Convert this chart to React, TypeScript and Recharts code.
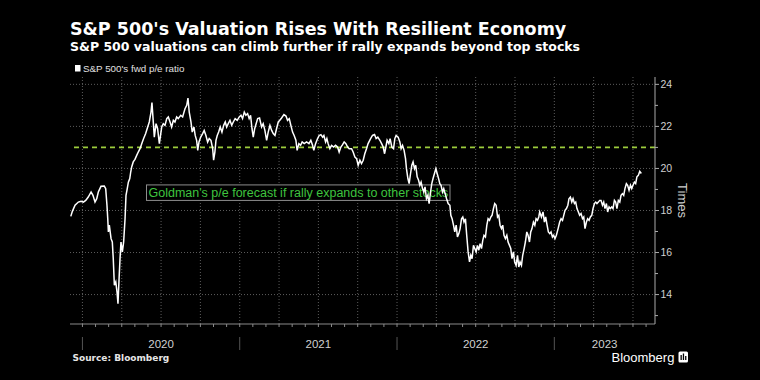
import React from 'react';
import { LineChart, Line, XAxis, YAxis, CartesianGrid, ReferenceLine } from 'recharts';

const TITLE = "S&P 500's Valuation Rises With Resilient Economy";
const SUBTITLE = 'S&P 500 valuations can climb further if rally expands beyond top stocks';
const SERIES_NAME = "S&P 500's fwd p/e ratio";
const ANNOTATION = "Goldman's p/e forecast if rally expands to other stocks";
const SOURCE = 'Source: Bloomberg';
const Y_AXIS_TITLE = 'Times';
const LOGO = 'Bloomberg';

// [decimal year, forward p/e]
const pe2020: [number, number][] = [
  [2019.926, 17.72], [2019.936, 17.96], [2019.953, 18.25], [2019.974, 18.4], [2019.991, 18.44],
  [2020.006, 18.4], [2020.021, 18.48], [2020.037, 18.64], [2020.055, 18.88], [2020.067, 18.72],
  [2020.08, 18.4], [2020.091, 18.56], [2020.101, 18.88], [2020.118, 19.15], [2020.139, 19.16],
  [2020.148, 19.04], [2020.156, 18.25], [2020.161, 17.61], [2020.165, 16.98], [2020.171, 17.3],
  [2020.182, 16.66], [2020.19, 16.5], [2020.196, 15.71], [2020.203, 14.44], [2020.212, 14.6],
  [2020.22, 14.12], [2020.226, 13.57], [2020.233, 14.76], [2020.239, 15.71], [2020.245, 16.5],
  [2020.254, 16.03], [2020.262, 16.5], [2020.271, 17.61], [2020.277, 18.72], [2020.285, 19.04],
  [2020.292, 19.35], [2020.301, 19.52], [2020.307, 19.83], [2020.313, 20.07], [2020.323, 20.31],
  [2020.334, 20.43], [2020.345, 20.62], [2020.355, 20.78], [2020.366, 20.94], [2020.377, 21.18],
  [2020.389, 21.42], [2020.402, 21.66], [2020.415, 21.97], [2020.425, 22.21], [2020.436, 22.68],
  [2020.442, 23.13], [2020.449, 22.37], [2020.457, 21.49], [2020.468, 22.13], [2020.478, 21.89],
  [2020.489, 21.18], [2020.504, 21.97], [2020.514, 22.13], [2020.525, 22.05], [2020.536, 22.37],
  [2020.546, 22.45], [2020.557, 22.21], [2020.567, 21.97], [2020.578, 22.29], [2020.588, 22.21],
  [2020.599, 22.45], [2020.609, 22.37], [2020.625, 22.53], [2020.637, 22.45], [2020.652, 22.84],
  [2020.663, 23.0], [2020.671, 23.35], [2020.679, 22.68], [2020.69, 22.21], [2020.698, 21.73],
  [2020.709, 21.97], [2020.717, 21.57], [2020.726, 21.34], [2020.733, 20.86], [2020.741, 21.26],
  [2020.752, 21.49], [2020.764, 21.66], [2020.774, 21.81], [2020.785, 21.57], [2020.796, 21.26],
  [2020.806, 21.42], [2020.817, 21.34], [2020.828, 20.94], [2020.834, 20.39], [2020.842, 20.78],
  [2020.849, 21.34], [2020.857, 21.57], [2020.866, 21.73], [2020.876, 21.97], [2020.887, 21.73],
  [2020.898, 22.05], [2020.908, 22.21], [2020.917, 21.97], [2020.927, 22.13], [2020.938, 22.29],
  [2020.949, 22.05], [2020.959, 22.21], [2020.971, 22.37], [2020.984, 22.29], [2020.997, 22.45],
];

const pe2021: [number, number][] = [
  [2021.008, 22.53], [2021.018, 22.37], [2021.029, 22.68], [2021.039, 22.53], [2021.05, 22.61],
  [2021.06, 22.37], [2021.069, 22.53], [2021.078, 21.89], [2021.086, 21.49], [2021.095, 21.89],
  [2021.114, 22.37], [2021.126, 22.4], [2021.139, 21.97], [2021.149, 22.13], [2021.16, 21.81],
  [2021.171, 21.34], [2021.181, 21.73], [2021.192, 22.05], [2021.203, 21.81], [2021.213, 21.66],
  [2021.224, 21.57], [2021.234, 21.89], [2021.245, 22.21], [2021.255, 22.29], [2021.266, 22.4],
  [2021.281, 22.56], [2021.294, 22.49], [2021.304, 22.29], [2021.315, 22.37], [2021.325, 22.05],
  [2021.336, 21.73], [2021.346, 21.57], [2021.357, 21.34], [2021.365, 20.86], [2021.376, 21.18],
  [2021.387, 21.1], [2021.397, 21.26], [2021.41, 21.18], [2021.425, 21.26], [2021.44, 21.18],
  [2021.452, 21.34], [2021.463, 21.1], [2021.471, 20.86], [2021.482, 21.18], [2021.495, 21.42],
  [2021.505, 21.57], [2021.516, 21.61], [2021.527, 21.49], [2021.535, 21.57], [2021.546, 21.26],
  [2021.554, 21.42], [2021.562, 21.18], [2021.573, 20.94], [2021.584, 21.1], [2021.597, 21.02],
  [2021.609, 21.1], [2021.622, 21.02], [2021.632, 20.78], [2021.643, 21.02], [2021.654, 21.13],
  [2021.664, 21.26], [2021.675, 21.18], [2021.686, 21.02], [2021.696, 20.94], [2021.711, 20.94],
  [2021.721, 20.78], [2021.732, 20.54], [2021.743, 20.47], [2021.753, 20.15], [2021.764, 20.39],
  [2021.774, 20.23], [2021.785, 20.39], [2021.795, 20.7], [2021.806, 20.94], [2021.816, 21.18],
  [2021.832, 21.42], [2021.844, 21.57], [2021.857, 21.61], [2021.867, 21.42], [2021.878, 21.49],
  [2021.891, 21.34], [2021.902, 21.18], [2021.912, 21.02], [2021.921, 20.7], [2021.929, 21.02],
  [2021.937, 21.34], [2021.948, 21.18], [2021.956, 21.42], [2021.967, 21.02], [2021.978, 20.94],
  [2021.986, 21.42], [2021.994, 21.57],
];

const pe2022: [number, number][] = [
  [2022.007, 21.49], [2022.018, 21.26], [2022.026, 20.94], [2022.035, 21.1], [2022.045, 20.86],
  [2022.054, 20.47], [2022.06, 19.99], [2022.069, 19.52], [2022.077, 19.28], [2022.086, 19.76],
  [2022.094, 20.15], [2022.102, 20.31], [2022.111, 19.99], [2022.119, 20.15], [2022.128, 19.6],
  [2022.137, 19.44], [2022.145, 19.2], [2022.153, 19.35], [2022.162, 19.04], [2022.17, 18.88],
  [2022.178, 19.12], [2022.187, 18.56], [2022.196, 18.72], [2022.204, 18.33], [2022.213, 18.88],
  [2022.221, 19.28], [2022.229, 19.52], [2022.238, 19.76], [2022.247, 19.99], [2022.255, 19.76],
  [2022.264, 19.52], [2022.272, 19.28], [2022.28, 19.2], [2022.289, 18.88], [2022.297, 19.04],
  [2022.315, 18.56], [2022.325, 18.33], [2022.336, 18.25], [2022.342, 17.77], [2022.35, 17.61],
  [2022.359, 17.3], [2022.367, 16.98], [2022.376, 17.3], [2022.384, 16.74], [2022.393, 16.9],
  [2022.401, 17.14], [2022.41, 17.61], [2022.418, 17.69], [2022.426, 17.45], [2022.435, 17.61],
  [2022.443, 16.82], [2022.452, 16.03], [2022.461, 15.55], [2022.469, 15.87], [2022.477, 15.71],
  [2022.486, 16.34], [2022.494, 16.19], [2022.503, 16.03], [2022.511, 16.34], [2022.52, 16.11],
  [2022.528, 16.42], [2022.537, 16.19], [2022.545, 16.58], [2022.553, 16.82], [2022.562, 16.74],
  [2022.571, 17.3], [2022.579, 17.61], [2022.588, 17.53], [2022.596, 17.69], [2022.604, 17.77],
  [2022.613, 18.09], [2022.621, 18.33], [2022.63, 18.25], [2022.639, 17.69], [2022.647, 17.77],
  [2022.655, 17.3], [2022.664, 17.14], [2022.672, 17.3], [2022.68, 16.82], [2022.689, 16.66],
  [2022.698, 16.82], [2022.706, 16.5], [2022.715, 16.34], [2022.723, 16.19], [2022.731, 15.71],
  [2022.74, 16.03], [2022.748, 15.55], [2022.757, 15.39], [2022.766, 15.87], [2022.774, 15.31],
  [2022.782, 15.55], [2022.791, 15.39], [2022.799, 15.87], [2022.808, 16.19], [2022.816, 16.5],
  [2022.825, 16.98], [2022.833, 16.82], [2022.842, 16.5], [2022.85, 16.98], [2022.858, 17.14],
  [2022.867, 17.45], [2022.876, 17.3], [2022.884, 17.61], [2022.893, 17.53], [2022.901, 17.69],
  [2022.907, 17.93], [2022.918, 17.69], [2022.928, 17.93], [2022.937, 17.45], [2022.945, 17.69],
  [2022.954, 17.3], [2022.962, 16.98], [2022.971, 16.9], [2022.979, 16.98], [2022.988, 16.74],
  [2022.996, 16.82],
];

const pe2023: [number, number][] = [
  [2023.004, 16.66], [2023.013, 16.82], [2023.024, 17.14], [2023.034, 17.45], [2023.043, 17.61],
  [2023.052, 17.53], [2023.06, 17.77], [2023.068, 18.01], [2023.077, 18.09], [2023.086, 18.25],
  [2023.093, 18.56], [2023.102, 18.64], [2023.111, 18.4], [2023.119, 18.56], [2023.128, 18.33],
  [2023.136, 18.4], [2023.144, 18.09], [2023.153, 17.93], [2023.161, 17.77], [2023.17, 17.85],
  [2023.179, 17.61], [2023.187, 17.69], [2023.195, 17.14], [2023.204, 17.45], [2023.212, 17.61],
  [2023.221, 17.53], [2023.229, 17.69], [2023.238, 17.77], [2023.246, 18.09], [2023.255, 18.33],
  [2023.263, 18.4], [2023.271, 18.33], [2023.28, 18.4], [2023.288, 18.48], [2023.297, 18.48],
  [2023.306, 18.25], [2023.314, 18.4], [2023.322, 18.09], [2023.331, 18.33], [2023.339, 17.93],
  [2023.348, 18.17], [2023.356, 18.09], [2023.365, 18.17], [2023.373, 18.09], [2023.382, 18.48],
  [2023.39, 18.4], [2023.398, 18.09], [2023.407, 18.48], [2023.416, 18.4], [2023.424, 18.72],
  [2023.433, 18.8], [2023.441, 18.72], [2023.449, 19.04], [2023.458, 19.28], [2023.466, 19.2],
  [2023.475, 18.96], [2023.484, 19.2], [2023.492, 19.04], [2023.5, 19.2], [2023.509, 19.35],
  [2023.517, 19.28], [2023.525, 19.6], [2023.534, 19.67], [2023.543, 19.86], [2023.553, 19.76],
];

const goldmanForecast = 21;
const yearLabels = ['2020', '2021', '2022', '2023'];
const yearLabelPositions = [2020.5, 2021.5, 2022.5, 2023.32];
const tickYears = [2020, 2021, 2022, 2023];
const yTicks = [13, 14, 15, 16, 17, 18, 19, 20, 21, 22, 23, 24];
const yLabelled = [14, 16, 18, 20, 22, 24];
const quarterGrid = [2020, 2020.25, 2020.5, 2020.75, 2021, 2021.25, 2021.5, 2021.75, 2022, 2022.25, 2022.5, 2022.75, 2023, 2023.25, 2023.5];
const xDomain: [number, number] = [2019.921, 2023.64];
const yDomain: [number, number] = [12.6, 24.35];

const data = [...pe2020, ...pe2021, ...pe2022, ...pe2023].map(([t, pe]) => ({ t, pe }));
const monthTicks: number[] = [];
tickYears.forEach((yr) => {
  for (let m = 0; m < 12; m++) {
    const v = yr + m / 12;
    if (v >= xDomain[0] && v <= xDomain[1]) monthTicks.push(v);
  }
});

const SANS = "'Liberation Sans', Arial, sans-serif";
const DEJAVU = "'DejaVu Sans', sans-serif";

const MonthTick = (props: any) => {
  const { x, y, payload } = props;
  const v = payload.value as number;
  const isJan = Math.abs(v - Math.round(v)) < 1e-6;
  return (
    <g>
      <line x1={x} x2={x} y1={y} y2={y + 3} stroke="#8a8a8a" strokeWidth={1} />
      {isJan && <line x1={x} x2={x} y1={y + 13} y2={y + 26} stroke="#555" strokeWidth={1} />}
    </g>
  );
};

const YearLabelTick = (props: any) => {
  const { x, y, payload } = props;
  const i = yearLabelPositions.indexOf(payload.value);
  return (
    <text x={x} y={y + 4.3} textAnchor="middle" fill="#d0d0d0" fontSize={11.5} fontFamily={SANS}>
      {yearLabels[i]}
    </text>
  );
};

const YTick = (props: any) => {
  const { x, y, payload } = props;
  const v = payload.value as number;
  const major = yLabelled.includes(v);
  return (
    <g>
      <line x1={x} x2={x + (major ? 4 : 3)} y1={y} y2={y} stroke="#aaa" strokeWidth={1} />
      {major && (
        <text x={x + 5.5} y={y + 3.8} fill="#d0d0d0" fontSize={10.5} fontFamily={SANS}>
          {v}
        </text>
      )}
    </g>
  );
};

const YTitle = (props: any) => {
  const vb = props.viewBox || { x: 655, y: 77, width: 60, height: 247 };
  const cx = vb.x + 27;
  const cy = vb.y + vb.height / 2;
  return (
    <text
      x={cx}
      y={cy}
      transform={`rotate(90 ${cx} ${cy})`}
      textAnchor="middle"
      dominantBaseline="central"
      fill="#cfcfcf"
      fontSize={13}
      fontFamily={SANS}
    >
      {Y_AXIS_TITLE}
    </text>
  );
};

const AnnotationBox = (props: any) => {
  const vb = props.viewBox || { x: 70, y: 147.5 };
  const bx = vb.x + 76.5;
  const by = vb.y + 37.5;
  return (
    <g>
      <rect x={bx} y={by} width={303.5} height={15.5} fill="#000" stroke="#8c8c8c" strokeWidth={1} />
      <text x={bx + 2} y={by + 12} fill="#3fc43f" fontSize={12.5} fontFamily={SANS}>
        {ANNOTATION}
      </text>
    </g>
  );
};

export default function App() {
  return (
    <div style={{ position: 'absolute', left: 0, top: 0, width: 760, height: 380, background: '#000', overflow: 'hidden' }}>
      <svg width={760} height={380} style={{ position: 'absolute', left: 0, top: 0 }}>
        <text x={70} y={34.7} fill="#fff" fontSize={17.5} fontWeight="bold" fontFamily={DEJAVU}>
          {TITLE}
        </text>
        <text x={70} y={50.5} fill="#fff" fontSize={12.5} fontWeight="bold" fontFamily={DEJAVU}>
          {SUBTITLE}
        </text>
        <rect x={75} y={65} width={5.5} height={6.5} fill="#fff" />
        <text x={83} y={71.5} fill="#e0e0e0" fontSize={9.8} fontFamily={SANS}>
          {SERIES_NAME}
        </text>
        <text x={72.5} y={361} fill="#e6e6e6" fontSize={9} fontWeight="bold" fontFamily={DEJAVU}>
          {SOURCE}
        </text>
        <text x={611.5} y={361.5} fill="#fff" fontSize={13} fontFamily={SANS}>
          {LOGO}
        </text>
        <rect x={678.5} y={351.5} width={9.5} height={11} rx={1.5} fill="#fff" />
        <rect x={680.5} y={355} width={1.3} height={5} fill="#000" />
        <rect x={682.8} y={353.5} width={1.3} height={6.5} fill="#000" />
        <rect x={685.1} y={356} width={1.3} height={4} fill="#000" />
      </svg>
      <div style={{ position: 'absolute', left: 0, top: 0 }}>
        <LineChart width={760} height={380} data={data} margin={{ top: 77, right: 45, bottom: 0, left: 70 }}>
          <CartesianGrid
            xAxisId="m"
            yAxisId="r"
            stroke="#5c5c5c"
            strokeDasharray="1 2"
            horizontalValues={yLabelled}
            verticalValues={quarterGrid}
          />
          <XAxis
            xAxisId="m"
            dataKey="t"
            type="number"
            domain={xDomain}
            allowDataOverflow
            ticks={monthTicks}
            interval={0}
            height={20}
            tickSize={0}
            tickMargin={0}
            tickLine={false}
            axisLine={{ stroke: '#8a8a8a' }}
            tick={<MonthTick />}
          />
          <XAxis
            xAxisId="y"
            dataKey="t"
            type="number"
            domain={xDomain}
            allowDataOverflow
            ticks={yearLabelPositions}
            interval={0}
            height={36}
            tickSize={0}
            tickMargin={0}
            tickLine={false}
            axisLine={false}
            tick={<YearLabelTick />}
          />
          <YAxis
            yAxisId="r"
            orientation="right"
            type="number"
            domain={yDomain}
            allowDataOverflow
            ticks={yTicks}
            interval={0}
            width={60}
            tickSize={0}
            tickMargin={0}
            tickLine={false}
            axisLine={{ stroke: '#aaa' }}
            tick={<YTick />}
            label={(p: any) => <YTitle {...p} />}
          />
          <ReferenceLine
            xAxisId="m"
            yAxisId="r"
            y={goldmanForecast}
            stroke="#9ccc3c"
            strokeWidth={1.6}
            strokeDasharray="5 4"
            label={(p: any) => <AnnotationBox {...p} />}
          />
          <Line
            xAxisId="m"
            yAxisId="r"
            dataKey="pe"
            type="linear"
            stroke="#fff"
            strokeWidth={1.5}
            dot={false}
            activeDot={false}
            isAnimationActive={false}
          />
        </LineChart>
      </div>
    </div>
  );
}
